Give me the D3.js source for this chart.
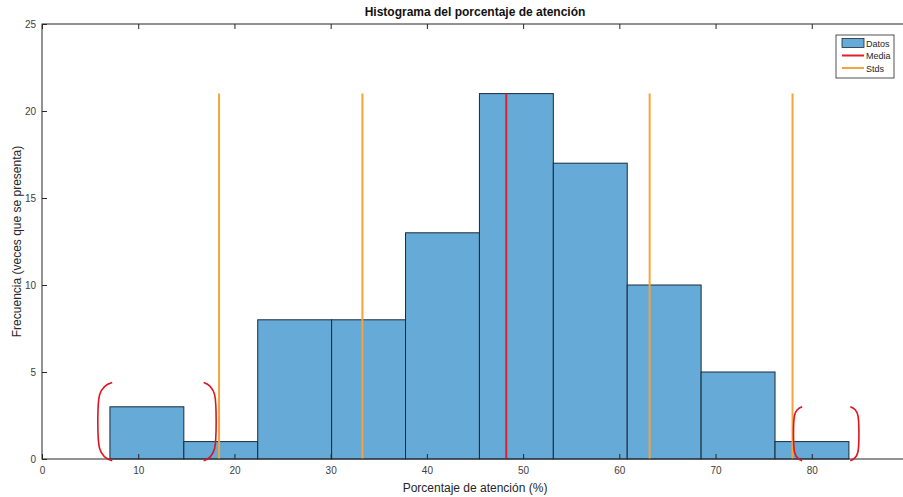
<!DOCTYPE html>
<html>
<head>
<meta charset="utf-8">
<script src="https://cdn.jsdelivr.net/npm/d3@7"></script>
<style>
  body { margin: 0; background: #fff; }
  svg { display: block; font-family: "Liberation Sans", Arial, sans-serif; }
</style>
</head>
<body>
<svg id="chart"></svg>
<script>
// Data
var binEdges = [7.06, 14.74, 22.42, 30.10, 37.78, 45.46, 53.14, 60.82, 68.50, 76.18, 83.86];
var binCounts = [3, 1, 8, 8, 13, 21, 17, 10, 5, 1];
var meanValue = 48.25;
var stdValues = [18.4, 33.3, 63.15, 78.0];
var lineTop = 21;
var xTicks = [0, 10, 20, 30, 40, 50, 60, 70, 80, 90];
var yTicks = [0, 5, 10, 15, 20, 25];
// red bracket annotations: [xTip, xEnd, yTop, yBottom] in data units
var brackets = [
  [5.8, 7.3, 4.4, -0.1],
  [18.1, 16.8, 4.4, -0.1],
  [78.1, 79.0, 3.0, -0.1],
  [84.9, 84.0, 3.0, -0.1]
];

var width = 903, height = 497;
var margin = { left: 42, right: -5, top: 24, bottom: 38 };

var svg = d3.select("#chart").attr("width", width).attr("height", height);

var x = d3.scaleLinear().domain([0, 90]).range([margin.left, width - margin.right]);
var y = d3.scaleLinear().domain([0, 25]).range([height - margin.bottom, margin.top]);

var axisColor = "#262626";
var tickLen = 5;

// bars
var bins = binCounts.map(function (c, i) { return { x0: binEdges[i], x1: binEdges[i + 1], n: c }; });
svg.selectAll("rect.bar").data(bins).enter().append("rect")
    .attr("class", "bar")
    .attr("x", function (d) { return x(d.x0); })
    .attr("y", function (d) { return y(d.n); })
    .attr("width", function (d) { return x(d.x1) - x(d.x0); })
    .attr("height", function (d) { return y(0) - y(d.n); })
    .style("fill", "#66aad7")
    .style("stroke", "#1a2a3a")
    .style("stroke-width", 1);

// std lines
svg.selectAll("line.std").data(stdValues).enter().append("line")
    .attr("class", "std")
    .attr("x1", function (d) { return x(d); })
    .attr("x2", function (d) { return x(d); })
    .attr("y1", y(0))
    .attr("y2", y(lineTop))
    .style("stroke", "#f5a33a")
    .style("stroke-width", 2);

// mean line
svg.append("line")
    .attr("x1", x(meanValue)).attr("x2", x(meanValue))
    .attr("y1", y(0)).attr("y2", y(lineTop))
    .style("stroke", "#e0202a")
    .style("stroke-width", 2);

// box + axes
svg.append("rect")
    .attr("x", x(0)).attr("y", y(25))
    .attr("width", x(90) - x(0)).attr("height", y(0) - y(25))
    .style("fill", "none").style("stroke", axisColor).style("stroke-width", 1);

var xAxis = d3.axisBottom(x).tickValues(xTicks).tickSizeInner(-tickLen).tickSizeOuter(0).tickPadding(8);
var gx = svg.append("g").attr("transform", "translate(0," + y(0) + ")").call(xAxis);
var xTop = d3.axisTop(x).tickValues(xTicks).tickSizeInner(-tickLen).tickSizeOuter(0).tickFormat("");
var gxt = svg.append("g").attr("transform", "translate(0," + y(25) + ")").call(xTop);
var yAxis = d3.axisLeft(y).tickValues(yTicks).tickSizeInner(-tickLen).tickSizeOuter(0).tickPadding(6);
var gy = svg.append("g").attr("transform", "translate(" + x(0) + ",0)").call(yAxis);

[gx, gxt, gy].forEach(function (g) {
    g.select(".domain").remove();
    g.selectAll(".tick line").style("stroke", axisColor);
    g.selectAll(".tick text").style("fill", "#404040").style("font-size", "10px")
        .style("font-family", "Liberation Sans, Arial, sans-serif");
});

// brackets
svg.selectAll("path.bracket").data(brackets).enter().append("path")
    .attr("class", "bracket")
    .attr("d", function (b) {
        var xt = x(b[0]), xe = x(b[1]), yt = y(b[2]), yb = y(b[3]);
        var h = yb - yt;
        return "M" + xe + "," + yt +
            " C" + xt + "," + (yt + h * 0.05) + " " + xt + "," + (yt + h * 0.2) + " " + xt + "," + (yt + h * 0.5) +
            " C" + xt + "," + (yt + h * 0.8) + " " + xt + "," + (yt + h * 0.95) + " " + xe + "," + yb;
    })
    .style("fill", "none")
    .style("stroke", "#e0141e")
    .style("stroke-width", 1.6);

// title and labels
svg.append("text")
    .attr("x", (x(0) + x(90)) / 2).attr("y", 16)
    .attr("text-anchor", "middle")
    .style("font-size", "12px").style("font-weight", "bold").style("fill", "#111")
    .text("Histograma del porcentaje de atención");

svg.append("text")
    .attr("x", (x(0) + x(90)) / 2).attr("y", 492)
    .attr("text-anchor", "middle")
    .style("font-size", "12px").style("fill", "#262626")
    .text("Porcentaje de atención (%)");

svg.append("text")
    .attr("transform", "translate(21," + ((y(0) + y(25)) / 2) + ") rotate(-90)")
    .attr("text-anchor", "middle")
    .style("font-size", "12px").style("fill", "#262626")
    .text("Frecuencia (veces que se presenta)");

// legend
var legendItems = [
  { label: "Datos", type: "patch", color: "#66aad7" },
  { label: "Media", type: "line", color: "#e0202a" },
  { label: "Stds", type: "line", color: "#f5a33a" }
];
var lg = svg.append("g").attr("transform", "translate(836,35)");
lg.append("rect").attr("width", 58).attr("height", 43)
    .style("fill", "#fff").style("stroke", "#262626").style("stroke-width", 0.8);
var li = lg.selectAll("g.item").data(legendItems).enter().append("g")
    .attr("transform", function (d, i) { return "translate(0," + (8 + i * 12.5) + ")"; });
li.each(function (d) {
    var g = d3.select(this);
    if (d.type === "patch") {
        g.append("rect").attr("x", 6).attr("y", -4.5).attr("width", 22).attr("height", 9)
            .style("fill", d.color).style("stroke", "#1a2a3a").style("stroke-width", 0.8);
    } else {
        g.append("line").attr("x1", 6).attr("x2", 28).attr("y1", 0).attr("y2", 0)
            .style("stroke", d.color).style("stroke-width", 2);
    }
    g.append("text").attr("x", 30).attr("y", 3.5)
        .style("font-size", "9px").style("fill", "#262626").text(d.label);
});
</script>
</body>
</html>
